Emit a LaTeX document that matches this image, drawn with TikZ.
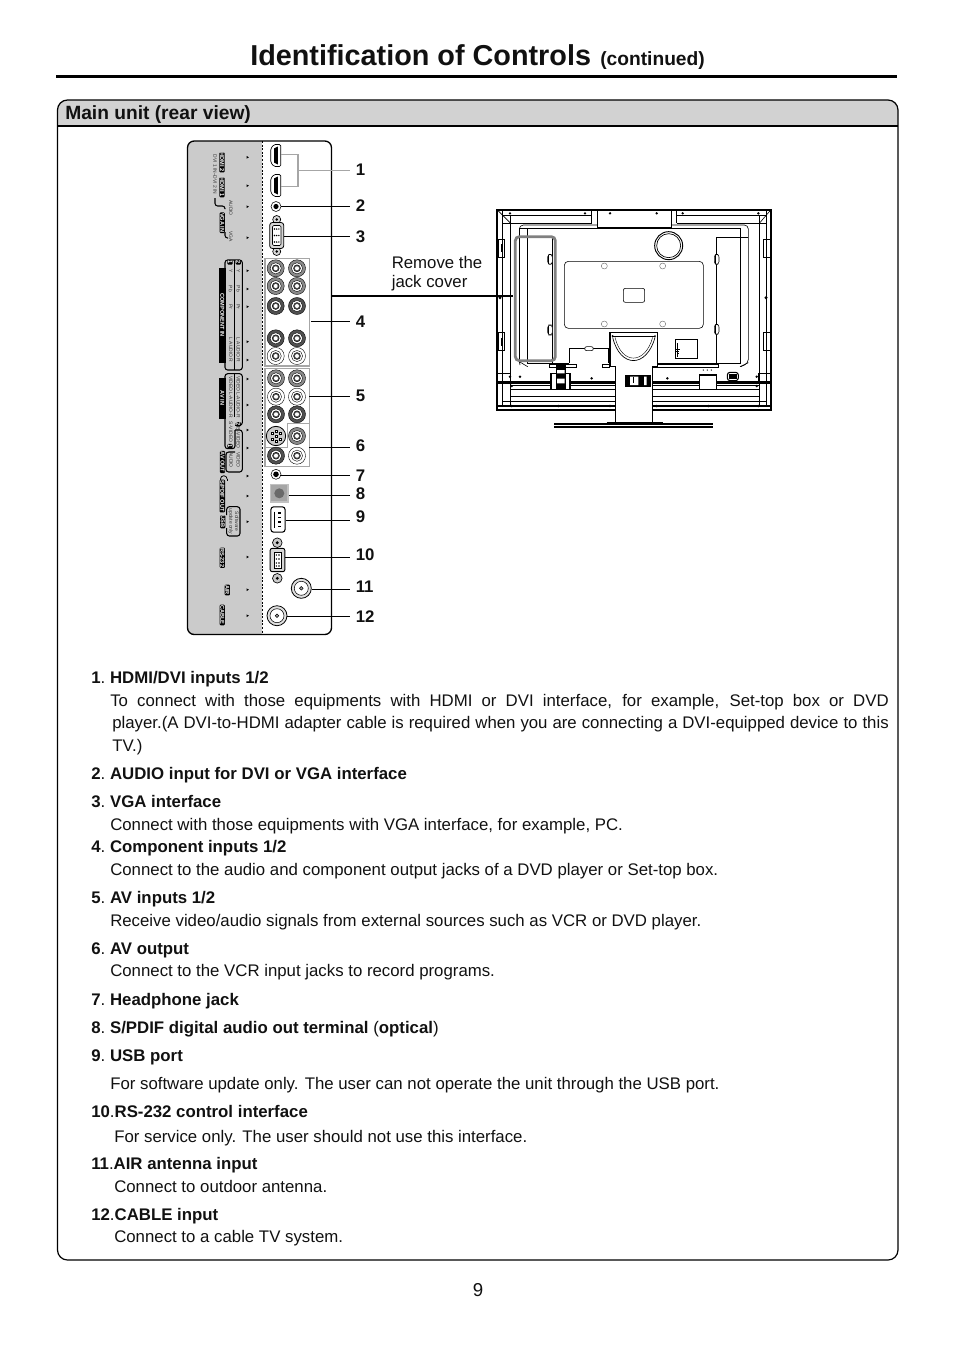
\documentclass[tikz,border=0pt]{standalone}
\usepackage{fontspec}
\setmainfont{Liberation Sans}
\usetikzlibrary{arrows.meta,positioning,shapes.geometric}
\definecolor{ink}{HTML}{111111}
\definecolor{panelgrey}{HTML}{CBCBCB}
\definecolor{headgrey}{HTML}{D2D2D2}
\definecolor{boxgrey}{HTML}{A6A6A6}
\definecolor{covergrey}{HTML}{808080}
\definecolor{jackmid}{HTML}{8A8A8A}
\definecolor{jackdark}{HTML}{505050}
\newcommand{\bodyfont}{\fontsize{12.6}{15}\selectfont}
\newcommand{\itemhead}[2]{\textbf{#1}.\hspace{3.6pt}\textbf{#2}}
\newcommand{\rcajack}[4]{%
 \node[rcaring,fill=#4] (#1) at (#2,#3) {};
 \node[rcaring,fill=white,minimum size=8.4pt] (#1w) at (#2,#3) {};
 \node[rcaring,fill=jackdark,minimum size=5.2pt] (#1c) at (#2,#3) {};
 \node[rcaring,fill=white,draw=none,minimum size=3pt] (#1d) at (#2,#3) {};
}
\begin{document}
\begin{tikzpicture}[x=0.75pt,y=-0.75pt,>=Stealth]
 \tikzstyle{bodytext}=[anchor=base west,inner sep=0pt,font=\bodyfont,text=ink]
 \tikzstyle{numtag}=[anchor=west,inner sep=0pt,font=\bodyfont\bfseries,text=ink]
 \tikzstyle{callout}=[draw=black,line width=0.75pt]
 \tikzstyle{bracket}=[draw=boxgrey,line width=1.3pt]
 \tikzstyle{rcaring}=[circle,draw=black,line width=0.3pt,inner sep=0pt,minimum size=12.8pt]
 \tikzstyle{rearmarker}=[regular polygon,regular polygon sides=3,shape border rotate=-90,fill=black,inner sep=0pt,minimum size=2.4pt]
 \tikzstyle{blacktag}=[fill=black,text=white,rounded corners=0.8pt,rotate=-90,inner sep=0.5pt,font=\fontsize{4.2}{5}\selectfont\bfseries]
 \tikzstyle{paneltext}=[rotate=-90,inner sep=0pt,text=black!80,font=\fontsize{3.7}{4.4}\selectfont]
 \tikzstyle{outline}=[draw=black,line width=0.8pt,rounded corners=2pt]
 \tikzstyle{tvline}=[draw=black,line width=0.45pt]
 \useasboundingbox (0,0) rectangle (954,1350);

 \node[inner sep=0pt,anchor=base west,font=\fontsize{21.6}{26}\selectfont\bfseries,text=ink] (title) at (250,65) {Identification of Controls};
 \node[inner sep=0pt,anchor=base west,font=\fontsize{14.4}{16}\selectfont\bfseries,text=ink] (titlemore) at (600,65) {(continued)};
 \draw[line width=2.6pt] (56,76.5) -- (897,76.5);

 \fill[headgrey,rounded corners=7.5pt] (57.5,100) -- (898,100) -- (898,126) -- (57.5,126) -- cycle;
 \fill[headgrey] (57.5,112) rectangle (898,126);
 \draw[line width=0.9pt] (57.5,126) -- (898,126);
 \draw[line width=0.9pt,rounded corners=7.5pt] (57.5,100) rectangle (898,1260);
 \node[inner sep=0pt,anchor=base west,font=\fontsize{14.4}{16}\selectfont\bfseries,text=ink] (mainunit) at (65,119) {Main unit (rear view)};

 \fill[panelgrey,rounded corners=5pt] (187.5,141) -- (262,141) -- (262,634.5) -- (187.5,634.5) -- cycle;
 \fill[panelgrey] (230,141) rectangle (262,634.5);
 \draw[line width=1pt,rounded corners=5pt] (187.5,141) rectangle (331.5,634.5);
 \draw[line width=0.6pt,dash pattern=on 1.5pt off 1.2pt] (262,141) -- (262,634.5);

 \foreach \nm/\py in {hdmiA/155.5,hdmiB/185.5}{
  \node[draw=none,minimum width=7.8pt,minimum height=16.5pt,inner sep=0pt] (\nm) at (275.7,\py) {};
  \draw[line width=0.5pt,fill=white,rounded corners=1pt] (270.8,\py-7) -- (274,\py-11) -- (280.8,\py-11) -- (280.8,\py+11) -- (274,\py+11) -- (270.8,\py+7) -- cycle;
  \fill[black] (274,\py-7) -- (277.8,\py-9) -- (277.8,\py+9) -- (274,\py+7) -- cycle;
 }
 \coordinate (hdmibend) at (298.3,170.5);
 \draw[bracket] (hdmiA.east |- 0,154.5) -- (298.3,154.5) -- (298.3,186.5) -- (hdmiB.east |- 0,186.5);

 \node[circle,draw=black,fill=white,line width=0.4pt,minimum size=7.5pt,inner sep=0pt] (audiojack) at (276,206.5) {};
 \fill[black] (audiojack) circle (2.6);
 \draw[line width=0.5pt,fill=boxgrey!45] (276.7,219.5) circle (4) (276.7,251.5) circle (4);
 \fill[black] (276.7,219.5) circle (1.4) (276.7,251.5) circle (1.4);
 \node[draw=black,fill=boxgrey!45,line width=0.6pt,rounded corners=2pt,minimum width=10.5pt,minimum height=19.5pt,inner sep=0pt] (vgajack) at (276.7,235.5) {};
 \draw[line width=0.4pt,fill=white,rounded corners=1pt] (272.5,225.5) rectangle (281,245.5);
 \foreach \row in {229,235.5,242}{\foreach \col in {274.5,276.7,278.9}{\fill[black] (\col,\row) circle (0.8);}}

 \draw[draw=boxgrey,line width=1.1pt] (265,258.3) rectangle (309.3,366);
 \draw[draw=boxgrey,line width=1.1pt] (265,368.3) rectangle (309.3,466.7);
 \draw[draw=boxgrey,line width=1.1pt] (266,447.7) -- (287.3,447.7) -- (287.3,423.7) -- (309.3,423.7);
 \rcajack{compA}{275.7}{268.3}{jackmid}
 \rcajack{compB}{297}{268.3}{jackmid}
 \rcajack{compC}{275.7}{286}{jackmid}
 \rcajack{compD}{297}{286}{jackmid}
 \rcajack{compE}{275.7}{306}{jackdark}
 \rcajack{compF}{297}{306}{jackdark}
 \rcajack{compG}{275.7}{338.3}{jackdark}
 \rcajack{compH}{297}{338.3}{jackdark}
 \rcajack{compI}{275.7}{356}{white}
 \rcajack{compJ}{297}{356}{white}
 \rcajack{avA}{276}{378.3}{jackmid}
 \rcajack{avB}{297}{378.3}{jackmid}
 \rcajack{avC}{276}{396.7}{white}
 \rcajack{avD}{297}{396.7}{white}
 \rcajack{avE}{276}{414.3}{jackdark}
 \rcajack{avF}{297}{414.3}{jackdark}
 \rcajack{outA}{297}{436}{jackmid}
 \rcajack{outB}{276}{455.7}{jackdark}
 \rcajack{outC}{297}{455.7}{white}
 \node[circle,draw=black,fill=boxgrey!60,line width=0.6pt,minimum size=14.5pt,inner sep=0pt] (svideo) at (276,436) {};
 \foreach \pinx/\piny in {272/433,272/439,276/431,276/436,276/441,280/433,280/439}{\fill[white,draw=black,line width=0.2pt] (\pinx-1,\piny-1) rectangle (\pinx+1,\piny+1);}

 \node[circle,draw=black,fill=white,line width=0.4pt,minimum size=7.5pt,inner sep=0pt] (phonejack) at (276,474.3) {};
 \fill[black] (phonejack) circle (2.8);
 \node[draw=boxgrey!70,fill=boxgrey,line width=1pt,minimum size=13pt,inner sep=0pt] (optical) at (279.3,493.3) {};
 \fill[jackdark!85] (optical) circle (5);
 \node[draw=black,fill=white,line width=0.8pt,rounded corners=2pt,minimum width=10.6pt,minimum height=19pt,inner sep=0pt] (usbjack) at (278,519.5) {};
 \draw[line width=0.4pt] (274,511.5) -- (274,527.5);
 \foreach \row in {512,516.5,521,525.5}{\fill[black] (277.8,\row) rectangle (280.5,\row+1.8);}
 \draw[line width=0.5pt,fill=boxgrey!60] (277.3,542.7) circle (4.8) (277.3,578.3) circle (4.8);
 \fill[black] (277.3,542.7) circle (1.6) (277.3,578.3) circle (1.6);
 \node[draw=black,fill=boxgrey!45,line width=0.7pt,rounded corners=1.5pt,minimum width=11pt,minimum height=17.5pt,inner sep=0pt] (rsjack) at (277.5,560) {};
 \fill[white,draw=black,line width=0.3pt] (274,552) rectangle (281,568);
 \foreach \row in {555,559,563,566}{\fill[black] (276.4,\row) circle (0.8) (279,\row) circle (0.8);}
 \foreach \nm/\px/\py in {airjack/301.3/588.3,cablejack/277/615.7}{
  \node[circle,draw=black,fill=boxgrey!35,line width=0.6pt,minimum size=15pt,inner sep=0pt] (\nm) at (\px,\py) {};
  \draw[line width=0.4pt,fill=white] (\nm) circle (7);
  \draw[line width=0.4pt,fill=boxgrey] (\nm) circle (1.8);
 }

 \foreach \jk/\num/\ny/\ly in {hdmibend/1/170/170.5,audiojack/2/206/206.5,vgajack/3/237/236.5,usbjack/9/517/520.5,rsjack/10/555/557.5,airjack/11/587/589.5,cablejack/12/617/616.5}{
  \node[numtag] (n\num) at (355.5,\ny) {\num};
  \coordinate (s\num) at (349.5,\ly);
  \draw[callout] (\jk.east |- s\num) -- (s\num);
 }
 \draw[bracket] (hdmibend) -- (s1);
 \foreach \xa/\num/\ny/\ly in {311/4/322/321.5,309.3/5/396/396.5,309.3/6/446/447.5,279.8/7/476/475.5,288.7/8/494/495.5}{
  \node[numtag] (n\num) at (355.5,\ny) {\num};
  \coordinate (s\num) at (349.5,\ly);
  \coordinate (j\num) at (\xa,\ly);
  \draw[callout] (j\num) -- (s\num);
 }

 \node[blacktag] (tagB) at (222,162.3) {HDMI 2};
 \node[blacktag] (tagA) at (222,187.3) {HDMI 1};
 \node[paneltext] (dvitext) at (215,174.5) {DVI 1 IN--DVI 2 IN};
 \draw[outline] (215,198) -- (215,206) -- (225,206) -- (225,209);
 \node[paneltext] (audiotext) at (230.7,208) {AUDIO};
 \node[blacktag] (tagvga) at (222.3,222.7) {VGA IN};
 \draw[outline] (225,232) -- (225,238) -- (228,238);
 \node[paneltext] (vgatext) at (230.7,236.7) {VGA};

 \draw[outline] (225,268) -- (225,260) -- (242.3,260) -- (242.3,370) -- (225,370) -- (225,363);
 \draw[line width=0.7pt] (234.7,260) -- (234.7,370);
 \node[fill=black,minimum width=5pt,minimum height=71pt,inner sep=0pt] (compbar) at (222.3,315.5) {};
 \node[blacktag,fill=none] (comptext) at (222.3,315) {COMPONENT IN};
 \node[blacktag] (compone) at (230,262.5) {1};
 \node[blacktag] (comptwo) at (238.3,262.5) {2};
 \foreach \lab/\py in {Y/271,Pb/289,Pr/307}{
  \node[paneltext] (ca\py) at (230.7,\py) {\lab};
  \node[paneltext] (cb\py) at (238.3,\py) {\lab};
 }
 \node[paneltext] (cc) at (230.7,350) {L AUDIO R};
 \node[paneltext] (cd) at (238.3,350) {L AUDIO R};

 \draw[outline] (225,378) -- (225,373.7) -- (242.3,373.7) -- (242.3,425.3) -- (235,425.3);
 \draw[line width=0.7pt] (234.7,373.7) -- (234.7,417);
 \node[fill=black,minimum width=5pt,minimum height=30.5pt,inner sep=0pt] (avbar) at (222.3,398.3) {};
 \node[blacktag,fill=none] (avtext) at (222.3,398) {AV IN};
 \node[paneltext] (avvideo) at (230.7,384) {VIDEO};
 \node[paneltext] (avaudio) at (230.7,405) {L-AUDIO-R};
 \node[paneltext] (avvideob) at (238.3,384) {VIDEO};
 \node[paneltext] (avaudiob) at (238.3,405) {L-AUDIO-R};
 \node[blacktag] (avtwo) at (238.3,424.3) {2};
 \draw[outline] (225,418.7) -- (225,448.7) -- (235,448.7) -- (235,430);
 \node[paneltext] (svtext) at (230.7,432) {S-VIDEO};
 \node[blacktag] (avone) at (230,446) {1};
 \draw[outline] (235,430) -- (242.3,430) -- (242.3,472) -- (226,472) -- (226,452) -- (235,452);
 \node[paneltext] (svtextb) at (238.3,438) {S-VIDEO};
 \node[paneltext] (outvideo) at (238.3,460) {VIDEO};
 \node[paneltext] (outaudio) at (231,460) {AUDIO};
 \node[blacktag] (tagout) at (222.5,462) {AV OUT};
 \draw[line width=0.6pt] (220.5,479) arc[start angle=180,end angle=360,radius=3.3];
 \draw[line width=0.6pt] (220.5,479) -- (220.5,481) (227,479) -- (227,481);
 \node[blacktag] (tagopt) at (222.3,496) {S/PDIF OUT};
 \node[blacktag] (tagusb) at (222.7,521.7) {USB};
 \draw[outline] (226.7,515) -- (226.7,506.7) -- (240,506.7) -- (240,536) -- (226.7,536) -- (226.7,528);
 \node[paneltext,align=center] (usbtext) at (233.5,521.5) {Software\\update only};
 \node[blacktag] (tagrs) at (222.3,557.7) {RS-232};
 \node[blacktag] (tagair) at (227.3,590) {AIR};
 \node[blacktag] (tagcable) at (222.3,615) {CABLE};
 \foreach \py [count=\mi] in {157.3,185.7,206.7,237.7,270.7,289,306.7,341.7,360,379,405,430,448,476,496,521.7,557,589.7,615.7}{
  \node[rearmarker] (mark\mi) at (247.3,\py) {};
 }

 \begin{scope}[shift={(490,200)},x=0.25pt,y=-0.25pt]
  \draw[line width=1.4pt] (22,30) rectangle (842,630);
  \draw[line width=2pt] (22,548) -- (842,548);
  \draw[line width=1pt] (22,520) -- (60,520) (808,520) -- (842,520);
  \draw[tvline] (38,30) -- (38,620) (828,30) -- (828,620) (62,45) -- (62,620) (808,45) -- (808,620);
  \draw[tvline] (38,45) -- (305,45) (560,45) -- (828,45) (38,70) -- (305,70) (560,70) -- (828,70);
  \draw[line width=0.8pt] (322,30) -- (322,82) -- (545,82) -- (545,30);
  \draw[tvline] (305,30) -- (305,70) (560,30) -- (560,70);
  \draw[tvline] (22,30) -- (62,70) (842,30) -- (808,70);
  \draw[tvline,rounded corners=3pt] (88,85) -- (88,75) -- (322,75) (545,75) -- (775,75) -- (775,490) -- (752,500);
  \draw[tvline] (88,85) -- (750,85) -- (750,490) -- (500,490);
  \draw[line width=0.8pt] (113,85) -- (113,110);
  \draw[line width=1.1pt] (88,85) -- (88,480);
  \draw[tvline] (186,110) -- (186,490);
  \draw[tvline] (113,110) -- (113,490) -- (237,490);
  \draw[tvline] (775,112) -- (678,112) -- (678,492);
  \draw[line width=0.7pt] (536,137) circle (42);
  \draw[line width=0.5pt] (536,137) circle (36);
  \draw[tvline,rounded corners=3pt] (223,184) rectangle (640,385);
  \draw[tvline,rounded corners=1.5pt] (400,265) rectangle (464,307);
  \foreach \hx/\hy in {343/198,518/198,343/372,518/372}{\draw[line width=0.3pt,draw=black!60] (\hx,\hy) circle (9);}
  \foreach \hx/\hy in {180/178,180/390,680/178,680/388}{\draw[line width=0.4pt,fill=white,rounded corners=2pt] (\hx-7,\hy-15) rectangle (\hx+7,\hy+15);\fill[black] (\hx-6,\hy-13) rectangle (\hx-2,\hy+13);}
  \foreach \hx/\hy in {34/145,34/425,830/145,830/425}{\draw[tvline] (\hx-10,\hy-27) rectangle (\hx+10,\hy+27);\fill[black] (\hx-2,\hy-12) rectangle (\hx+2,\hy+12);}
  \foreach \hx/\hy in {30/293,828/293}{\fill[black] (\hx,\hy) circle (5);}
  \foreach \hx/\hy in {60/40,285/40,578/40,805/40,60/530,305/535,532/535,800/530,65/558,800/558,65/618,205/618,360/618,500/618,655/618,805/618,90/530,360/40,500/40}{\fill[black] (\hx,\hy) circle (4);}
  \draw[tvline] (62,555) -- (808,555) (62,568) -- (808,568) (62,590) -- (808,590) (38,605) -- (828,605);
  \draw[line width=0.8pt] (22,618) -- (842,618);
  \draw[tvline] (90,495) -- (88,485) -- (113,500) (750,500) -- (775,488);
  \draw[tvline] (62,520) -- (62,548) (805,520) -- (805,548);
  \draw[tvline] (237,490) -- (237,445) -- (355,445) -- (355,490);
  \draw[tvline,fill=white,rounded corners=1.5pt] (284,440) rectangle (310,452);
  \draw[tvline] (555,418) rectangle (622,475);
  \draw[line width=0.3pt] (563,430) -- (563,470) (557,448) -- (570,448) (559,454) -- (568,454) (561,460) -- (566,460);
  \draw[tvline,fill=white] (178,492) rectangle (258,501);
  \draw[tvline,fill=white] (338,492) rectangle (358,501);
  \draw[tvline,fill=white] (490,492) rectangle (685,501);
  \draw[line width=0.8pt,fill=white] (183,520) rectangle (240,568);
  \fill[black] (198,495) rectangle (228,566);
  \fill[white] (201,510) rectangle (224,520) (201,536) rectangle (224,550);
  \draw[line width=0.8pt,fill=white] (628,525) rectangle (680,568);
  \foreach \hx in {640,652,664}{\fill[black] (\hx,510) circle (2);}
  \draw[line width=0.8pt,fill=white,rounded corners=2pt] (712,517) rectangle (745,542);
  \fill[black] (718,521) rectangle (740,538);
  \draw[line width=1.1pt,fill=white] (360,397) -- (503,397) -- (503,500) -- (488,500) -- (488,668) -- (377,668) -- (377,500) -- (360,500) -- cycle;
  \draw[tvline] (365,408) -- (495,408);
  \draw[line width=0.5pt] (368,412) .. controls (390,505) and (470,505) .. (495,412);
  \draw[line width=0.3pt] (375,412) .. controls (395,495) and (465,495) .. (488,412);
  \fill[black] (368,408) circle (3) (495,408) circle (3);
  \fill[black] (405,525) rectangle (482,560);
  \fill[white] (420,530) rectangle (445,555) (462,530) rectangle (470,555);
  \draw[line width=0.3pt] (430,532) -- (430,550);
  \draw[tvline] (377,668) -- (377,545) (488,668) -- (488,545);
  \draw[line width=1.4pt] (193,672) -- (670,672);
  \draw[line width=1.4pt] (193,682) -- (670,682);
  \draw[tvline] (350,668) -- (520,668);
  \draw[covergrey,line width=2.1pt,rounded corners=3pt] (76,110) rectangle (196,482);
 \end{scope}

 \node[inner sep=0pt,anchor=base west,font=\bodyfont,text=ink,align=left] (removeA) at (391.5,268) {Remove the};
 \node[inner sep=0pt,anchor=base west,font=\bodyfont,text=ink,align=left] (removeB) at (391.5,287) {jack cover};
 \draw[line width=2.2pt] (331.5,296) -- (513,296);

 \node[bodytext] (itemA) at (91,683) {\itemhead{1}{HDMI/DVI inputs 1/2}};
 \node[bodytext] (itemAa) at (110,706) {\makebox[583.9pt][s]{To connect with those equipments with HDMI or DVI interface, for example, Set-top box or DVD}};
 \node[bodytext] (itemAb) at (112,728) {\makebox[582.4pt][s]{player.(A DVI-to-HDMI adapter cable is required when you are connecting a DVI-equipped device to this}};
 \node[bodytext] (itemAc) at (112,751) {TV.)};
 \node[bodytext] (itemB) at (91,779) {\itemhead{2}{AUDIO input for DVI or VGA interface}};
 \node[bodytext] (itemC) at (91,807) {\itemhead{3}{VGA interface}};
 \node[bodytext] (itemCa) at (110,830) {Connect with those equipments with VGA interface, for example, PC.};
 \node[bodytext] (itemD) at (91,852) {\itemhead{4}{Component inputs 1/2}};
 \node[bodytext] (itemDa) at (110,875) {Connect to the audio and component output jacks of a DVD player or Set-top box.};
 \node[bodytext] (itemE) at (91,903) {\itemhead{5}{AV inputs 1/2}};
 \node[bodytext] (itemEa) at (110,926) {Receive video/audio signals from external sources such as VCR or DVD player.};
 \node[bodytext] (itemF) at (91,954) {\itemhead{6}{AV output}};
 \node[bodytext] (itemFa) at (110,976) {Connect to the VCR input jacks to record programs.};
 \node[bodytext] (itemG) at (91,1005) {\itemhead{7}{Headphone jack}};
 \node[bodytext] (itemH) at (91,1033) {\itemhead{8}{S/PDIF digital audio out terminal} (\textbf{optical})};
 \node[bodytext] (itemI) at (91,1061) {\itemhead{9}{USB port}};
 \node[bodytext] (itemIa) at (110,1089) {For software update only. The user can not operate the unit through the USB port.};
 \node[bodytext] (itemJ) at (91,1117) {\textbf{10}.\textbf{RS-232 control interface}};
 \node[bodytext] (itemJa) at (114,1142) {For service only. The user should not use this interface.};
 \node[bodytext] (itemK) at (91,1169) {\textbf{11}.\textbf{AIR antenna input}};
 \node[bodytext] (itemKa) at (114,1192) {Connect to outdoor antenna.};
 \node[bodytext] (itemL) at (91,1220) {\textbf{12}.\textbf{CABLE input}};
 \node[bodytext] (itemLa) at (114,1242) {Connect to a cable TV system.};
 \node[inner sep=0pt,font=\fontsize{14}{16}\selectfont,text=ink] (pagenum) at (478,1290.5) {9};
\end{tikzpicture}
\end{document}
